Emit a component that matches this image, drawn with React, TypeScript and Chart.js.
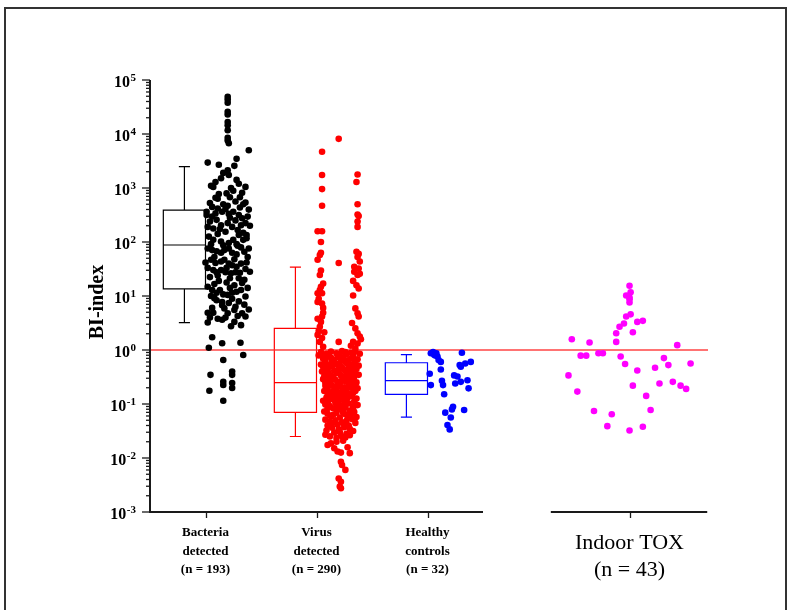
import React, { useEffect, useRef } from "react";
import { Chart, registerables } from "chart.js";

Chart.register(...registerables);

// ---------- data ----------
const groupNames = ["Bacteria detected", "Virus detected", "Healthy controls", "Indoor TOX"];
const groupLabelLines = [
  ["Bacteria", "detected", "(n = 193)"],
  ["Virus", "detected", "(n = 290)"],
  ["Healthy", "controls", "(n = 32)"],
];
const toxLabelLines = ["Indoor TOX", "(n = 43)"];
const groupPositions = [1, 2, 3];
const toxPosition = 4.82;
const xAxisSegments = [
  [0.5, 3.5],
  [4.12, 5.52],
];
const X_MIN = 0.5;
const X_MAX = 5.527;
const Y_MIN = 1e-3;
const Y_MAX = 1e5;
const yExponents = [-3, -2, -1, 0, 1, 2, 3, 4, 5];
const threshold = 1;

// box plot statistics (min, q1, median, q3, max) per group
const boxMin = [3.2, 0.025, 0.057];
const boxQ1 = [13.5, 0.07, 0.151];
const boxMedian = [88, 0.248, 0.27];
const boxQ3 = [390, 2.52, 0.58];
const boxMax = [2480, 34.4, 0.82];
const boxColors = ["#000000", "#ff0000", "#0000ff"];

// points: [jitter, log10(BI-index)]
const bacteriaPoints = [
  [0.2, 4.69], [0.2, 4.64], [0.2, 4.58], [0.2, 4.41], [0.2, 4.36], [0.2, 4.22], [0.2, 4.16], [0.2, 4.07], [0.2, 3.93], [0.2, 3.88], [0.21, 3.83],
  [0.39, 3.7], [0.02, 3.47], [0.12, 3.43], [0.28, 3.54], [0.26, 3.41], [0.2, 3.33], [0.16, 3.28], [0.21, 3.24], [0.14, 3.18], [0.09, 3.11],
  [0.05, 3.04], [0.07, 3.02], [0.28, 3.15], [0.36, 3.02], [0.3, 3.08],
  [0.33, 2.91], [0.09, 2.82], [0.11, 2.8], [0.22, 2.83], [0.16, 2.7], [0.2, 2.67], [0.27, 2.75], [0.34, 2.7], [0.36, 2.73], [0.06, 2.65],
  [0.11, 2.62], [0.01, 2.56], [0.01, 2.5], [0.06, 2.47], [0.1, 2.41], [0.15, 2.56], [0.21, 2.52], [0.25, 2.56], [0.3, 2.5], [0.33, 2.44],
  [0.36, 2.35], [0.02, 2.28], [0.07, 2.25], [0.14, 2.31], [0.2, 2.35], [0.24, 2.28], [0.29, 2.22], [0.34, 2.17], [0.37, 2.13], [0.03, 2.1],
  [0.07, 2.04], [0.14, 2.01], [0.16, 1.94], [0.21, 1.98], [0.25, 2.04], [0.3, 2.13], [0.34, 2.04], [0.37, 2.07], [0.18, 2.19], [0.11, 2.15],
  [0.27, 2.4], [0.04, 2.38], [0.12, 2.89], [0.25, 2.95], [0.18, 2.61], [0.31, 2.64], [0.22, 2.45], [0.39, 2.6], [0.4, 2.3], [0.09, 2.53],
  [0.29, 1.93], [0.32, 1.9], [0.02, 1.88], [0.06, 1.85], [0.1, 1.83], [0.14, 1.8], [0.17, 1.85], [0.21, 1.88], [0.24, 1.8], [0.28, 1.77],
  [0.05, 1.67], [0.09, 1.61], [0.14, 1.64], [0.17, 1.67], [0.21, 1.6], [0.24, 1.57], [0.28, 1.54], [0.32, 1.6], [0.02, 1.52], [0.07, 1.48],
  [0.1, 1.44], [0.14, 1.48], [0.18, 1.44], [0.23, 1.42], [0.27, 1.44], [0.31, 1.43], [0.02, 1.17], [0.06, 1.11], [0.1, 1.06], [0.13, 1.11],
  [0.16, 1.03], [0.2, 1.02], [0.24, 1.06], [0.32, 1.11], [0.05, 1.0], [0.08, 0.96], [0.36, 1.5], [0.38, 1.72], [0.35, 1.3], [0.04, 1.35],
  [0.12, 1.28], [0.19, 1.25], [0.26, 1.2], [0.3, 1.33], [0.38, 1.15], [0.08, 1.72], [0.35, 1.82], [0.26, 1.68], [0.11, 1.38], [0.22, 1.33],
  [0.28, 1.08], [0.36, 0.99], [0.0, 1.62], [0.4, 1.45],
  [0.38, 2.47], [0.13, 2.24], [0.32, 2.31], [0.05, 1.96], [0.39, 1.88], [0.19, 1.52], [0.33, 1.24], [0.08, 1.22], [0.22, 1.15], [0.17, 0.77],
  [0.37, 1.62], [0.28, 1.96], [0.04, 2.72], [0.23, 3.0], [0.31, 2.83], [0.19, 2.9],
  [0.15, 0.89], [0.21, 0.87], [0.27, 0.8], [0.02, 0.69], [0.07, 0.69], [0.02, 0.51], [0.15, 0.83], [0.15, 0.56], [0.2, 0.68], [0.26, 0.74],
  [0.26, 0.52], [0.33, 0.68], [0.36, 0.62], [0.32, 0.46], [0.06, 0.78], [0.1, 0.92], [0.24, 0.95], [0.3, 0.9], [0.35, 0.84], [0.18, 0.6],
  [0.11, 0.58], [0.29, 0.63], [0.23, 0.44], [0.04, 0.6], [0.39, 0.75],
  [0.06, 0.235], [0.15, 0.124], [0.315, 0.135], [0.03, 0.043], [0.34, -0.093], [0.16, -0.185], [0.24, -0.4], [0.24, -0.46], [0.045, -0.46],
  [0.16, -0.587], [0.16, -0.648], [0.24, -0.611], [0.24, -0.704], [0.035, -0.754], [0.16, -0.94],
];

const virusPoints = [
  // left column
  [0.05, 3.67], [0.05, 3.24], [0.05, 2.98], [0.05, 2.67], [0.01, 2.2], [0.05, 2.2], [0.04, 2.0], [0.04, 1.8], [0.03, 1.76], [0.01, 1.67],
  [0.04, 1.47], [0.03, 1.39], [0.06, 1.23], [0.04, 1.17], [0.01, 1.05], [0.05, 1.05], [0.03, 1.11], [0.05, 0.86], [0.01, 0.89], [0.06, 0.69],
  [0.05, 0.62], [0.04, 0.52], [0.03, 0.43], [0.01, 0.28], [0.05, 0.22], [0.03, 0.15], [0.06, 0.06], [0.02, 0.95], [0.06, 0.78], [0.02, 0.35],
  [0.07, 0.33], [0.01, 0.58],
  // middle
  [0.2, 3.91], [0.2, 1.61], [0.2, 0.15],
  // right column
  [0.37, 3.25], [0.36, 3.11], [0.37, 2.7], [0.37, 2.51], [0.38, 2.48], [0.37, 2.38], [0.37, 2.28], [0.36, 1.82], [0.38, 1.78], [0.37, 1.72],
  [0.39, 1.64], [0.34, 1.54], [0.38, 1.51], [0.34, 1.45], [0.37, 1.39], [0.39, 1.41], [0.33, 1.28], [0.36, 1.2], [0.38, 1.14], [0.33, 1.01],
  [0.35, 0.77], [0.37, 0.68], [0.38, 0.62], [0.35, 0.4], [0.37, 0.31], [0.39, 0.25], [0.33, 0.15], [0.37, 0.12], [0.35, 0.03], [0.31, 0.08],
  [0.4, 0.2], [0.32, 0.5],
  // dense cluster
  [0.04, -0.04], [0.09, -0.07], [0.13, -0.03], [0.18, -0.06], [0.23, -0.02], [0.27, -0.08], [0.31, -0.05], [0.35, -0.03], [0.39, -0.07],
  [0.06, -0.16], [0.1, -0.12], [0.15, -0.18], [0.19, -0.13], [0.24, -0.15], [0.28, -0.19], [0.33, -0.12], [0.37, -0.17], [0.02, -0.1],
  [0.04, -0.27], [0.08, -0.23], [0.12, -0.28], [0.17, -0.24], [0.21, -0.29], [0.26, -0.22], [0.3, -0.27], [0.34, -0.25], [0.38, -0.29], [0.14, -0.21],
  [0.07, -0.36], [0.11, -0.32], [0.16, -0.38], [0.2, -0.34], [0.25, -0.37], [0.29, -0.33], [0.32, -0.39], [0.36, -0.35], [0.05, -0.4],
  [0.09, -0.44], [0.13, -0.48], [0.18, -0.43], [0.22, -0.47], [0.27, -0.45], [0.31, -0.49], [0.35, -0.44], [0.38, -0.46], [0.15, -0.5], [0.24, -0.51],
  [0.06, -0.54], [0.1, -0.58], [0.14, -0.55], [0.19, -0.59], [0.23, -0.56], [0.28, -0.53], [0.32, -0.57], [0.36, -0.6], [0.21, -0.62],
  [0.08, -0.66], [0.12, -0.63], [0.16, -0.68], [0.2, -0.65], [0.25, -0.69], [0.29, -0.64], [0.33, -0.67], [0.37, -0.71], [0.1, -0.72], [0.27, -0.74],
  [0.07, -0.76], [0.14, -0.78], [0.18, -0.75], [0.22, -0.79], [0.26, -0.77], [0.31, -0.8], [0.35, -0.76], [0.19, -0.84], [0.12, -0.86],
  [0.09, -0.88], [0.15, -0.91], [0.23, -0.87], [0.28, -0.89], [0.32, -0.85], [0.36, -0.9], [0.06, -0.94], [0.25, -0.95], [0.17, -0.97],
  [0.08, -1.01], [0.12, -1.04], [0.2, -1.0], [0.24, -1.03], [0.29, -0.99], [0.33, -1.05], [0.37, -1.02], [0.15, -1.08], [0.22, -1.1], [0.3, -1.12],
  [0.07, -1.14], [0.1, -1.18], [0.18, -1.16], [0.26, -1.19], [0.34, -1.15], [0.13, -1.23], [0.21, -1.25], [0.28, -1.22], [0.36, -1.24],
  [0.08, -1.29], [0.12, -1.33], [0.17, -1.3], [0.23, -1.34], [0.27, -1.31], [0.32, -1.28], [0.35, -1.35], [0.19, -1.38], [0.1, -1.4],
  [0.14, -1.44], [0.2, -1.47], [0.25, -1.43], [0.3, -1.46], [0.33, -1.5], [0.16, -1.53], [0.27, -1.55], [0.09, -1.49],
  [0.12, -1.6], [0.18, -1.63], [0.22, -1.59], [0.26, -1.62], [0.3, -1.58], [0.08, -1.57],
  [0.1, -1.76], [0.13, -1.73], [0.18, -1.7], [0.24, -1.68], [0.19, -1.88], [0.22, -1.9], [0.3, -1.91], [0.22, -2.07], [0.23, -2.13],
  [0.26, -2.22], [0.2, -2.38], [0.22, -2.44], [0.21, -2.53], [0.22, -2.56], [0.28, -1.8], [0.16, -1.82],
  [0.05, -0.08], [0.11, -0.09], [0.21, -0.1], [0.26, -0.04], [0.33, -0.09], [0.08, -0.19], [0.13, -0.14], [0.22, -0.2], [0.31, -0.16], [0.35, -0.22],
  [0.06, -0.31], [0.14, -0.3], [0.19, -0.27], [0.23, -0.32], [0.28, -0.26], [0.33, -0.31], [0.11, -0.42], [0.2, -0.41], [0.29, -0.4], [0.34, -0.5],
  [0.07, -0.49], [0.12, -0.52], [0.17, -0.55], [0.26, -0.58], [0.3, -0.62], [0.08, -0.6], [0.14, -0.66], [0.23, -0.7], [0.31, -0.69], [0.35, -0.65],
  [0.1, -0.8], [0.16, -0.82], [0.24, -0.83], [0.29, -0.84], [0.33, -0.79], [0.11, -0.93], [0.2, -0.92], [0.27, -0.97], [0.34, -0.95], [0.1, -1.08],
  [0.18, -1.06], [0.26, -1.07], [0.33, -1.1], [0.15, -1.2], [0.24, -1.16], [0.31, -1.19], [0.14, -1.36], [0.25, -1.38], [0.29, -1.4], [0.21, -1.52],
];

const healthyPoints = [
  [0.03, -0.06], [0.06, -0.09], [0.08, -0.06], [0.09, -0.12], [0.1, -0.185], [0.12, -0.22], [0.31, -0.05], [0.39, -0.22], [0.34, -0.25],
  [0.29, -0.28], [0.12, -0.36], [0.02, -0.44], [0.27, -0.49], [0.03, -0.65], [0.13, -0.57], [0.14, -0.65], [0.25, -0.62], [0.3, -0.59],
  [0.36, -0.56], [0.37, -0.71], [0.15, -0.82], [0.23, -1.05], [0.22, -1.1], [0.16, -1.16], [0.33, -1.11], [0.21, -1.25], [0.18, -1.39],
  [0.2, -1.47], [0.05, -0.04], [0.3, -0.31], [0.07, -0.1], [0.24, -0.47],
];

const toxPoints = [
  [0.0, 1.19], [0.01, 1.07], [-0.03, 1.01], [0.0, 0.94], [0.0, 0.88], [-0.03, 0.62], [0.01, 0.66], [-0.05, 0.49], [-0.09, 0.43], [0.07, 0.52],
  [0.12, 0.54], [-0.12, 0.31], [0.03, 0.33], [-0.12, 0.15], [-0.52, 0.2], [-0.36, 0.14], [0.43, 0.09], [-0.44, -0.105], [-0.39, -0.105],
  [-0.28, -0.06], [-0.24, -0.06], [-0.08, -0.12], [-0.04, -0.26], [0.31, -0.15], [0.35, -0.28], [0.55, -0.25], [0.23, -0.33], [0.07, -0.38],
  [-0.55, -0.47], [0.27, -0.62], [0.39, -0.59], [0.46, -0.66], [0.51, -0.72], [0.03, -0.66], [-0.47, -0.77], [0.15, -0.85], [0.19, -1.11],
  [-0.32, -1.13], [-0.16, -1.19], [-0.2, -1.41], [0.12, -1.42], [0.0, -1.49], [0.0, 0.97],
];

const pointColors = ["#000000", "#ff0000", "#0000ff", "#ff00ff"];

// ---------- helpers ----------
const toXY = (pts: number[][], pos: number) => pts.map(([dx, lg]) => ({ x: pos + dx, y: Math.pow(10, lg) }));

const SERIF = '"Liberation Serif", "Times New Roman", serif';
const AXIS_COLOR = "#1a1a1a";

const decorPlugin = {
  id: "decor",
  beforeDatasetsDraw(chart: any) {
    const { ctx } = chart;
    const xs = chart.scales.x;
    const ys = chart.scales.y;
    ctx.save();
    ctx.lineWidth = 1.2;
    groupPositions.forEach((pos, i) => {
      const left = xs.getPixelForValue(pos - 0.38);
      const right = xs.getPixelForValue(pos);
      const mid = xs.getPixelForValue(pos - 0.19);
      const capL = xs.getPixelForValue(pos - 0.24);
      const capR = xs.getPixelForValue(pos - 0.14);
      const yMin = ys.getPixelForValue(boxMin[i]);
      const yQ1 = ys.getPixelForValue(boxQ1[i]);
      const yMed = ys.getPixelForValue(boxMedian[i]);
      const yQ3 = ys.getPixelForValue(boxQ3[i]);
      const yMax = ys.getPixelForValue(boxMax[i]);
      ctx.strokeStyle = boxColors[i];
      ctx.beginPath();
      ctx.rect(left, yQ3, right - left, yQ1 - yQ3);
      ctx.moveTo(left, yMed);
      ctx.lineTo(right, yMed);
      ctx.moveTo(mid, yQ3);
      ctx.lineTo(mid, yMax);
      ctx.moveTo(capL, yMax);
      ctx.lineTo(capR, yMax);
      ctx.moveTo(mid, yQ1);
      ctx.lineTo(mid, yMin);
      ctx.moveTo(capL, yMin);
      ctx.lineTo(capR, yMin);
      ctx.stroke();
    });
    ctx.restore();
  },
  afterDraw(chart: any) {
    const { ctx, chartArea } = chart;
    const xs = chart.scales.x;
    const ys = chart.scales.y;
    ctx.save();
    // y axis line
    ctx.strokeStyle = AXIS_COLOR;
    ctx.lineWidth = 2;
    ctx.beginPath();
    ctx.moveTo(chartArea.left, chartArea.top);
    ctx.lineTo(chartArea.left, chartArea.bottom + 1);
    ctx.stroke();
    // y ticks
    ctx.lineWidth = 1.3;
    yExponents.forEach((e) => {
      const y = ys.getPixelForValue(Math.pow(10, e));
      ctx.beginPath();
      ctx.moveTo(chartArea.left - 8, y);
      ctx.lineTo(chartArea.left, y);
      ctx.stroke();
      if (e < yExponents[yExponents.length - 1]) {
        for (let k = 2; k <= 9; k++) {
          const ym = ys.getPixelForValue(k * Math.pow(10, e));
          ctx.beginPath();
          ctx.moveTo(chartArea.left - 4, ym);
          ctx.lineTo(chartArea.left, ym);
          ctx.stroke();
        }
      }
    });
    // y labels 10^n
    ctx.fillStyle = "#000";
    ctx.textBaseline = "alphabetic";
    yExponents.forEach((e) => {
      const y = ys.getPixelForValue(Math.pow(10, e));
      const sup = String(e);
      ctx.font = `bold 11px ${SERIF}`;
      const ws = ctx.measureText(sup).width;
      const right = chartArea.left - 14;
      ctx.textAlign = "left";
      ctx.fillText(sup, right - ws, y + 0.5);
      ctx.font = `bold 16px ${SERIF}`;
      ctx.textAlign = "right";
      ctx.fillText("10", right - ws - 0.5, y + 7);
    });
    // y title
    ctx.save();
    ctx.translate(103, (chartArea.top + chartArea.bottom) / 2 + 6);
    ctx.rotate(-Math.PI / 2);
    ctx.font = `bold 20px ${SERIF}`;
    ctx.textAlign = "center";
    ctx.textBaseline = "alphabetic";
    ctx.fillText("BI-index", 0, 0);
    ctx.restore();
    // x axis segments
    ctx.lineWidth = 2;
    const yb = chartArea.bottom;
    xAxisSegments.forEach(([a, b]) => {
      ctx.beginPath();
      ctx.moveTo(xs.getPixelForValue(a) - 1, yb);
      ctx.lineTo(xs.getPixelForValue(b), yb);
      ctx.stroke();
    });
    // x ticks
    ctx.lineWidth = 1.3;
    [...groupPositions, toxPosition].forEach((p) => {
      const x = Math.round(xs.getPixelForValue(p)) + 0.5;
      ctx.beginPath();
      ctx.moveTo(x, yb);
      ctx.lineTo(x, yb + 6);
      ctx.stroke();
    });
    // x labels
    ctx.textAlign = "center";
    ctx.textBaseline = "middle";
    ctx.font = `bold 13px ${SERIF}`;
    groupPositions.forEach((p, i) => {
      const x = xs.getPixelForValue(p);
      groupLabelLines[i].forEach((line, j) => {
        ctx.fillText(line, x, yb + 21 + j * 18.5);
      });
    });
    ctx.font = `22px ${SERIF}`;
    const xt = xs.getPixelForValue(toxPosition);
    toxLabelLines.forEach((line, j) => {
      ctx.fillText(line, xt, yb + 31 + j * 27);
    });
    // outer frame
    ctx.strokeStyle = "#333";
    ctx.lineWidth = 2;
    ctx.strokeRect(5, 8, 781, 610);
    ctx.restore();
  },
};

export default function App() {
  const ref = useRef<HTMLCanvasElement>(null);
  useEffect(() => {
    const canvas = ref.current;
    if (!canvas) return;
    const groups = [bacteriaPoints, virusPoints, healthyPoints, toxPoints];
    const positions = [...groupPositions, toxPosition];
    const datasets: any[] = [
      {
        type: "line",
        label: "threshold",
        data: [
          { x: X_MIN, y: threshold },
          { x: X_MAX, y: threshold },
        ],
        showLine: true,
        borderColor: "rgba(255, 40, 40, 0.65)",
        borderWidth: 2,
        pointRadius: 0,
        order: 5,
      },
      ...groups.map((pts, i) => ({
        type: "scatter",
        label: groupNames[i],
        data: toXY(pts, positions[i]),
        pointRadius: 3.3,
        pointBackgroundColor: pointColors[i],
        pointBorderWidth: 0,
        borderColor: pointColors[i],
        order: 1,
      })),
    ];
    const chart = new Chart(canvas, {
      type: "scatter",
      data: { datasets },
      options: {
        responsive: false,
        animation: false,
        devicePixelRatio: 1,
        layout: { padding: { left: 150, right: 80, top: 80, bottom: 98 } },
        scales: {
          x: { type: "linear", min: X_MIN, max: X_MAX, display: false },
          y: { type: "logarithmic", min: Y_MIN, max: Y_MAX, display: false },
        },
        plugins: { legend: { display: false }, tooltip: { enabled: false } },
      },
      plugins: [decorPlugin],
    } as any);
    return () => chart.destroy();
  }, []);
  return (
    <div style={{ position: "absolute", left: 0, top: 0, width: 788, height: 610, background: "#fff" }}>
      <canvas ref={ref} width={788} height={610} style={{ display: "block" }} />
    </div>
  );
}
